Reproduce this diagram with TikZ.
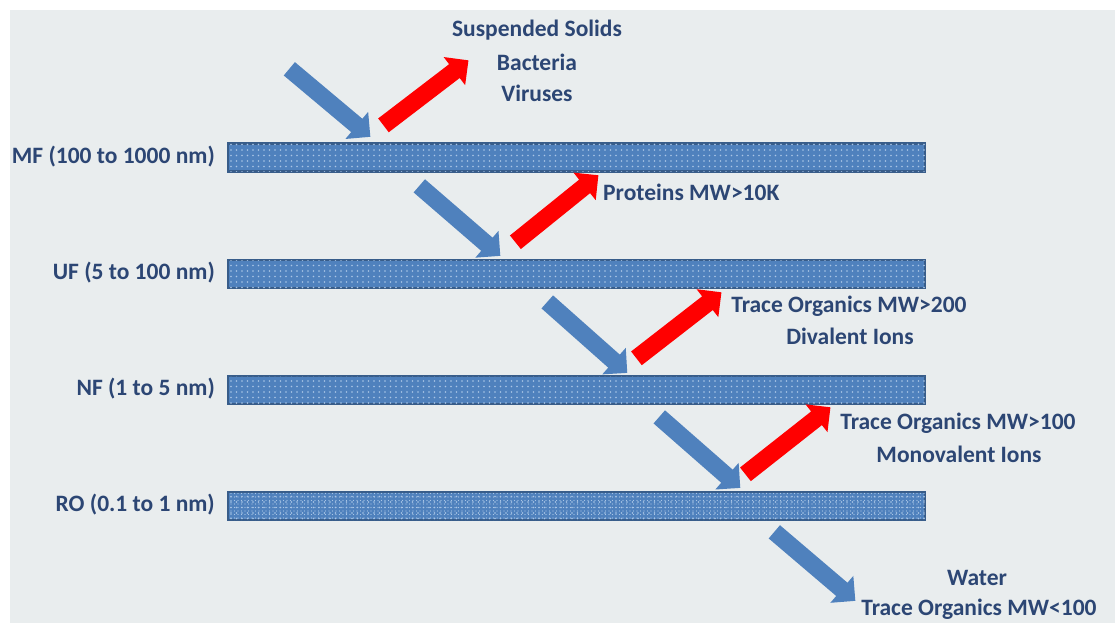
\documentclass[tikz,border=0pt]{standalone}
\usepackage{fontspec}
\setmainfont{Carlito}
\usetikzlibrary{shapes.arrows,calc,patterns.meta}
\definecolor{bg}{RGB}{233,237,238}
\definecolor{txt}{RGB}{44,70,116}
\definecolor{barblue}{RGB}{79,129,189}
\definecolor{barline}{RGB}{56,93,138}
\definecolor{dotc}{RGB}{170,198,230}
\definecolor{arrblue}{RGB}{79,129,189}
\definecolor{arrred}{RGB}{255,0,0}
\newcommand\blockarrow[4]{%
  \path let \p1=($(#3)-(#2)$) in
    node[blockarr, fill=#4, rotate={atan2(\y1,\x1)}, minimum height={veclen(\x1,\y1)}]
    (#1) at ($(#2)!0.5!(#3)$) {};}
\begin{document}
\begin{tikzpicture}[x=1pt,y=-1pt,
  lbl/.style={font=\bfseries\fontsize{23.5}{27}\selectfont, text=txt, inner sep=0pt},
  membrane/.style={rectangle, draw=barline, line width=2.2pt, fill=barblue,
    minimum width=697pt, minimum height=28pt, inner sep=0pt,
    postaction={pattern={Dots[distance=5.5pt,radius=0.8pt]}, pattern color=dotc}},
  membranefine/.style={membrane,
    postaction={pattern={Dots[distance=3.5pt,radius=0.7pt]}, pattern color=dotc}},
  blockarr/.style={single arrow, single arrow head extend=9pt, single arrow tip angle=90,
    inner xsep=0pt, inner ysep=8.5pt, minimum width=35pt, draw=none, anchor=center}
]
\useasboundingbox (0,0) rectangle (1115,623);
\fill[white] (0,0) rectangle (1115,623);
\fill[bg] (10,10) rectangle (1115,623);

% membranes
\node[membrane] (mf) at (576.5,157.5) {};
\node[membrane] (uf) at (576.5,274) {};
\node[membrane] (nf) at (576.5,390) {};
\node[membranefine] (ro) at (576.5,506) {};

% membrane labels
\node[lbl, anchor=east] (mfl) at (215,157) {MF (100 to 1000 nm)};
\node[lbl, anchor=east] (ufl) at (215,273) {UF (5 to 100 nm)};
\node[lbl, anchor=east] (nfl) at (215,389) {NF (1 to 5 nm)};
\node[lbl, anchor=east] (rol) at (215,505) {RO (0.1 to 1 nm)};

% arrow end points
\coordinate (b1t) at (286,66);  \coordinate (b1h) at (367,134);
\coordinate (r1t) at (380,128); \coordinate (r1h) at (465,63);
\coordinate (b2t) at (416,183); \coordinate (b2h) at (497,253);
\coordinate (r2t) at (512,245); \coordinate (r2h) at (595,178);
\coordinate (b3t) at (544,299); \coordinate (b3h) at (624,370);
\coordinate (r3t) at (633,361); \coordinate (r3h) at (718,295);
\coordinate (b4t) at (656,414); \coordinate (b4h) at (737,485);
\coordinate (r4t) at (742,477); \coordinate (r4h) at (827,410);
\coordinate (b5t) at (771,529); \coordinate (b5h) at (852,598);

\blockarrow{b1}{b1t}{b1h}{arrblue}
\blockarrow{r1}{r1t}{r1h}{arrred}
\blockarrow{b2}{b2t}{b2h}{arrblue}
\blockarrow{r2}{r2t}{r2h}{arrred}
\blockarrow{b3}{b3t}{b3h}{arrblue}
\blockarrow{r3}{r3t}{r3h}{arrred}
\blockarrow{b4}{b4t}{b4h}{arrblue}
\blockarrow{r4}{r4t}{r4h}{arrred}
\blockarrow{b5}{b5t}{b5h}{arrblue}

% retained species
\node[lbl] (t1a) at (537,30) {Suspended Solids};
\node[lbl] (t1b) at (537,62) {Bacteria};
\node[lbl] (t1c) at (537,93) {Viruses};
\node[lbl, anchor=west] (t2) at (603,192) {Proteins MW>10K};
\node[lbl] (t3a) at (849,306) {Trace Organics MW>200};
\node[lbl] (t3b) at (850,336) {Divalent Ions};
\node[lbl] (t4a) at (958,423) {Trace Organics MW>100};
\node[lbl] (t4b) at (959,454) {Monovalent Ions};
\node[lbl] (t5a) at (977,578) {Water};
\node[lbl] (t5b) at (979,609) {Trace Organics MW<100};
\end{tikzpicture}
\end{document}
